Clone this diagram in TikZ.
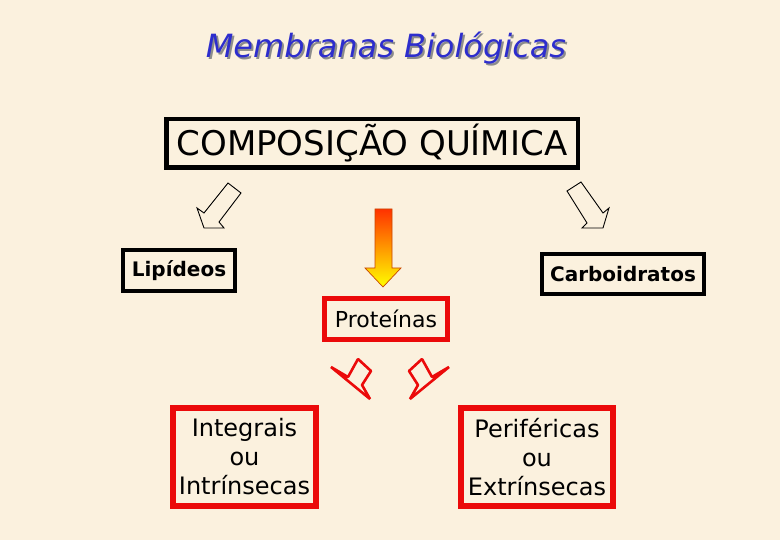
\documentclass[tikz,border=0pt]{standalone}
\usepackage{fontspec}
\setmainfont{DejaVu Sans}
\definecolor{bgc}{RGB}{251,241,222}
\definecolor{titleblue}{RGB}{45,45,205}
\definecolor{boxred}{RGB}{235,10,10}
\definecolor{arrowedge}{RGB}{200,70,0}
\begin{document}
\begin{tikzpicture}[x=1pt,y=-1pt,
  blackbox/.style={draw=black, line width=4pt, rectangle, inner sep=0pt, font=\fontsize{20}{26}\selectfont\bfseries},
  redbox/.style={draw=boxred, line width=5.5pt, rectangle, inner sep=0pt, align=center, font=\fontsize{24}{29}\selectfont},
  outlinearrow/.style={draw=black, line width=0.9pt, line join=miter},
  redarrow/.style={draw=boxred, line width=2.6pt, line join=bevel},
  gradarrow/.style={draw=arrowedge, line width=0.7pt, top color={rgb,255:red,255;green,50;blue,0}, bottom color={rgb,255:red,255;green,255;blue,0}}
]
\useasboundingbox (0,0) rectangle (780,540);
\fill[bgc] (0,0) rectangle (780,540);

% title with shadow
\node[text=titleblue, font=\fontsize{32}{38}\selectfont\itshape] (title) at (386,49)
  {\rlap{\hspace{2pt}\raisebox{-2pt}{\textcolor{black!45}{Membranas Biológicas}}}Membranas Biológicas};

% main box
\node[blackbox, font=\fontsize{34}{40}\selectfont, minimum width=411.5pt, minimum height=48.5pt, line width=4.5pt] (comp) at (372,143.5) {COMPOSIÇÃO QUÍMICA};

\node[blackbox, minimum width=112pt, minimum height=41pt] (lip) at (179,270.5) {Lipídeos};
\node[blackbox, minimum width=162pt, minimum height=40pt] (carb) at (623,274) {Carboidratos};
\node[redbox, line width=5pt, font=\fontsize{22}{29}\selectfont, minimum width=123pt, minimum height=41pt] (prot) at (386,319) {Proteínas};
\node[redbox, minimum width=143pt, minimum height=98pt] (integ) at (244.5,457) {Integrais\\ou\\Intrínsecas};
\node[redbox, minimum width=152pt, minimum height=98pt] (perif) at (537,457) {Periféricas\\ou\\Extrínsecas};

% outline arrows
\draw[outlinearrow] (228,183) -- (241,193) -- (219,222) -- (224,228) -- (204,228) -- (197,208) -- (204,213) -- cycle;
\draw[outlinearrow] (567,191) -- (581,182) -- (603,213) -- (609,208) -- (603,228) -- (582,228) -- (587,223) -- cycle;

% gradient arrow
\draw[gradarrow] (375,209) -- (392,209) -- (392,268) -- (401,268) -- (383,287) -- (365,268) -- (375,268) -- cycle;

% small red arrows
\draw[redarrow] (331,367) -- (348,377) -- (358,359) -- (371,371) -- (362,385) -- (370,399) -- cycle;
\draw[redarrow] (449,367) -- (432,377) -- (422,359) -- (409,371) -- (418,385) -- (410,399) -- cycle;
\end{tikzpicture}
\end{document}
